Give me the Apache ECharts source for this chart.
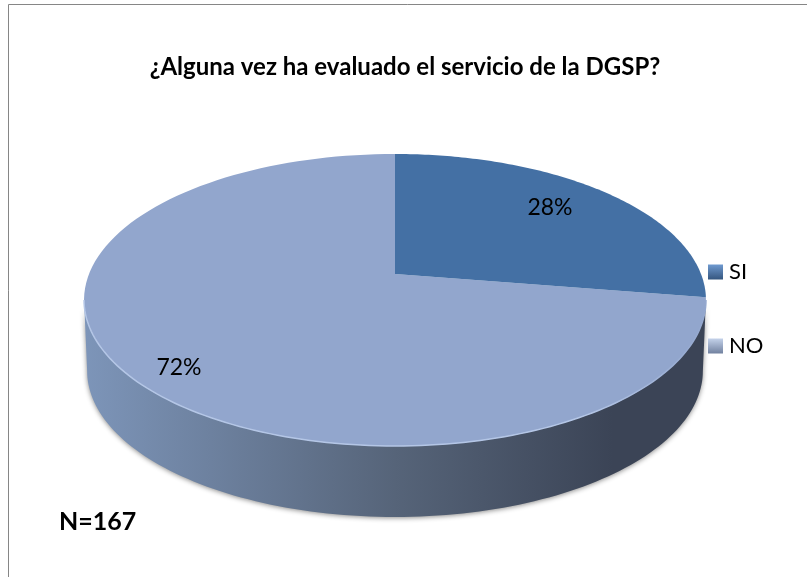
<!DOCTYPE html>
<html>
<head>
<meta charset="utf-8">
<style>
  html, body { margin: 0; padding: 0; background: #fff; }
  #chart { width: 807px; height: 577px; }
</style>
<script src="https://cdn.jsdelivr.net/npm/echarts@6/dist/echarts.min.js"></script>
</head>
<body>
<div id="chart"></div>
<script>
// datos (N=167)
const categories = ['SI', 'NO']
const counts = [46, 121]

const titleText = '¿Alguna vez ha evaluado el servicio de la DGSP?'
const noteText = 'N=167'
const fontName = 'Lato, "Open Sans", sans-serif'

const topColors = ['#4470a4', '#92a6cd']

// geometria de la tarta en perspectiva
const cx = 395
const cy = 274
const scaleX = 306
const scaleY = 141.4
const persp = 0.178
const wallHeight = 71
const total = counts.reduce((a, b) => a + b, 0)
const silhouette = Math.acos(-persp) // angulo donde el disco es mas ancho

const project = (angle, r = 1) => {
  const u = r * Math.sin(angle)
  const v = r * Math.cos(angle)
  const d = 1 + persp * v
  return [cx + u * scaleX / d, cy - v * scaleY / d]
}

const arcPoints = (from, to, steps = 120) => {
  const pts = []
  for (let i = 0; i <= steps; i++) {
    pts.push(project(from + (to - from) * i / steps))
  }
  return pts
}

const startAngle = (index) => {
  let sum = 0
  for (let i = 0; i < index; i++) sum += counts[i]
  return sum / total * Math.PI * 2
}

const labelPos = [[550, 208], [179, 368]]

const renderSlice = (params, api) => {
  const i = params.dataIndex
  const from = startAngle(i)
  const to = from + api.value(0) / total * Math.PI * 2
  const children = []

  // pared frontal, solo la parte visible
  const wallFrom = Math.max(from, silhouette)
  const wallTo = Math.min(to, Math.PI * 2 - silhouette)
  if (wallTo > wallFrom) {
    const upper = arcPoints(wallFrom, wallTo)
    const lower = upper.map(p => [cx + (p[0] - cx) * 0.99, p[1] + wallHeight]).reverse()
    children.push({
      type: 'polygon',
      shape: { points: upper.concat(lower) },
      style: {
        fill: new echarts.graphic.LinearGradient(0, 0, 1, 0, [
          { offset: 0, color: '#7d95b9' },
          { offset: 0.5, color: '#566479' },
          { offset: 0.85, color: '#3b4456' },
          { offset: 1, color: '#3b4456' }
        ]),
        shadowBlur: 5,
        shadowColor: 'rgba(0,0,0,0.45)',
        shadowOffsetY: 1
      }
    })
  }

  // cara superior
  children.push({
    type: 'polygon',
    shape: { points: [[cx, cy]].concat(arcPoints(from, to)) },
    style: { fill: topColors[i] }
  })

  // brillo del borde frontal
  if (wallTo > wallFrom) {
    children.push({
      type: 'polyline',
      shape: { points: arcPoints(wallFrom, wallTo) },
      style: {
        fill: null,
        stroke: new echarts.graphic.LinearGradient(0, 0, 1, 0, [
          { offset: 0, color: '#b4c6e6' },
          { offset: 0.8, color: '#b4c6e6' },
          { offset: 1, color: '#92a6cd' }
        ]),
        lineWidth: 1.5
      }
    })
  }

  children.push({
    type: 'text',
    z2: 10,
    style: {
      text: Math.round(api.value(0) / total * 100) + '%',
      x: labelPos[i][0],
      y: labelPos[i][1],
      align: 'center',
      verticalAlign: 'middle',
      fill: '#000',
      font: '23px ' + fontName
    }
  })
  return { type: 'group', children }
}

const legendIcon = (light, dark) => new echarts.graphic.LinearGradient(0, 0, 0, 1, [
  { offset: 0, color: light },
  { offset: 1, color: dark }
])

const chart = echarts.init(document.getElementById('chart'))
chart.setOption({
  animation: false,
  backgroundColor: '#fff',
  title: {
    text: titleText,
    left: 400,
    top: 50,
    textAlign: 'center',
    textStyle: { fontFamily: fontName, fontWeight: 'bold', fontSize: 24, color: '#000' }
  },
  legend: {
    orient: 'vertical',
    left: 708,
    top: 261,
    padding: 0,
    itemWidth: 15,
    itemHeight: 15,
    itemGap: 52,
    icon: 'rect',
    data: [
      { name: categories[0], itemStyle: { color: legendIcon('#6f9ad0', '#35567f') } },
      { name: categories[1], itemStyle: { color: legendIcon('#c4d2ea', '#71819f') } }
    ],
    textStyle: { fontFamily: fontName, fontSize: 22, color: '#000', padding: [0, 0, 0, 1] }
  },
  graphic: [
    {
      type: 'polyline',
      silent: true,
      shape: { points: [[8.5, 577], [8.5, 4.5], [807, 4.5]] },
      style: { fill: null, stroke: '#868686', lineWidth: 1 }
    },
    {
      type: 'text',
      style: {
        text: noteText,
        x: 59,
        y: 522,
        verticalAlign: 'middle',
        fill: '#000',
        font: 'bold 25px ' + fontName
      }
    }
  ],
  // NO va primero para que la cara de SI quede encima de su borde comun
  series: [1, 0].map(i => ({
    name: categories[i],
    type: 'custom',
    coordinateSystem: 'none',
    renderItem: (params, api) => renderSlice({ dataIndex: i }, api),
    data: [[counts[i]]]
  }))
})
</script>
</body>
</html>
